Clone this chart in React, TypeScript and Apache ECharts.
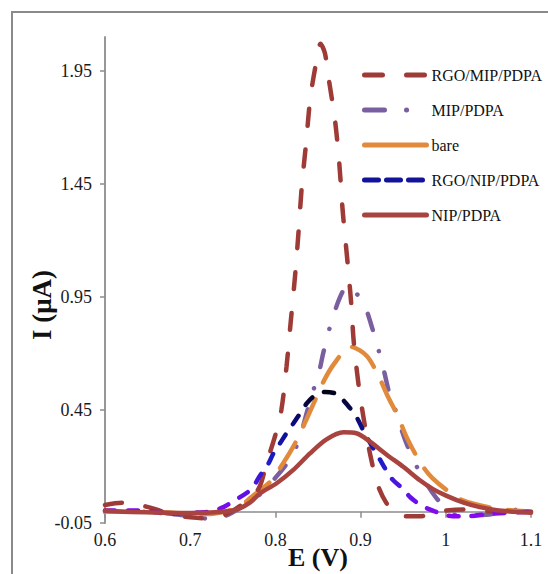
import React, { useEffect, useRef } from "react";
import * as echarts from "echarts";

// ---- data ----
const seriesNames = ["RGO/MIP/PDPA", "MIP/PDPA", "bare", "RGO/NIP/PDPA", "NIP/PDPA"];

const rgoMipE = [0.6, 0.62, 0.64, 0.66, 0.68, 0.7, 0.72, 0.74, 0.76, 0.78, 0.79, 0.8, 0.807, 0.813, 0.818, 0.823, 0.827, 0.831, 0.836, 0.841, 0.848, 0.853, 0.858, 0.862, 0.87, 0.875, 0.879, 0.883, 0.886, 0.889, 0.892, 0.898, 0.905, 0.912, 0.92, 0.93, 0.94, 0.95, 0.97, 0.99, 1.02, 1.06, 1.1];
const rgoMipI = [0.03, 0.04, 0.03, 0.01, -0.015, -0.025, -0.03, -0.015, 0.03, 0.1, 0.22, 0.34, 0.45, 0.64, 0.84, 1.04, 1.23, 1.44, 1.63, 1.83, 1.99, 2.07, 2.03, 1.93, 1.73, 1.54, 1.33, 1.17, 1.05, 0.92, 0.75, 0.55, 0.38, 0.24, 0.12, 0.04, 0.0, -0.02, -0.02, 0.0, 0.01, 0.0, 0.0];

const mipE = [0.6, 0.64, 0.68, 0.7, 0.72, 0.74, 0.76, 0.78, 0.8, 0.82, 0.831, 0.837, 0.844, 0.852, 0.856, 0.865, 0.876, 0.885, 0.894, 0.904, 0.913, 0.92, 0.927, 0.934, 0.94, 0.951, 0.962, 0.973, 0.989, 1.0, 1.013, 1.04, 1.07, 1.087, 1.1];
const mipI = [0.0, 0.0, -0.01, -0.02, -0.03, -0.02, 0.02, 0.07, 0.15, 0.25, 0.36, 0.44, 0.53, 0.63, 0.7, 0.83, 0.95, 1.0, 0.97, 0.92, 0.82, 0.73, 0.63, 0.52, 0.46, 0.33, 0.23, 0.15, 0.06, 0.02, -0.015, -0.015, 0.0, 0.01, 0.0];

const bareE = [0.6, 0.64, 0.68, 0.7, 0.72, 0.74, 0.758, 0.77, 0.794, 0.81, 0.821, 0.829, 0.845, 0.857, 0.87, 0.888, 0.907, 0.921, 0.932, 0.944, 0.954, 0.965, 0.975, 0.984, 1.003, 1.02, 1.05, 1.08, 1.1];
const bareI = [0.0, 0.0, -0.005, -0.01, -0.01, 0.0, 0.02, 0.06, 0.133, 0.22, 0.288, 0.347, 0.48, 0.58, 0.66, 0.73, 0.69, 0.6, 0.51, 0.42, 0.33, 0.25, 0.19, 0.15, 0.09, 0.05, 0.02, 0.005, 0.0];

const rgoNipE = [0.6, 0.64, 0.68, 0.7, 0.723, 0.739, 0.75, 0.767, 0.774, 0.782, 0.79, 0.798, 0.805, 0.813, 0.821, 0.829, 0.837, 0.845, 0.858, 0.872, 0.885, 0.895, 0.905, 0.915, 0.923, 0.931, 0.938, 0.95, 0.958, 0.97, 0.981, 1.0, 1.008, 1.025, 1.05, 1.1];
const rgoNipI = [0.005, 0.005, -0.01, -0.005, 0.0, 0.02, 0.045, 0.085, 0.11, 0.16, 0.2, 0.26, 0.3, 0.347, 0.39, 0.435, 0.48, 0.51, 0.53, 0.52, 0.47, 0.42, 0.345, 0.28, 0.229, 0.177, 0.14, 0.1, 0.065, 0.03, 0.01, -0.015, -0.02, -0.02, -0.01, 0.0];

const nipE = [0.6, 0.62, 0.66, 0.7, 0.739, 0.755, 0.77, 0.782, 0.8015, 0.821, 0.8406, 0.86, 0.88, 0.895, 0.911, 0.931, 0.95, 0.97, 0.985, 1.001, 1.021, 1.04, 1.06, 1.08, 1.1];
const nipI = [0.005, 0.0, -0.003, -0.006, 0.0, 0.01, 0.04, 0.081, 0.126, 0.185, 0.258, 0.32, 0.351, 0.347, 0.31, 0.251, 0.199, 0.138, 0.1, 0.07, 0.04, 0.02, 0.006, 0.0, -0.005];

const yTickValues = [-0.05, 0.45, 0.95, 1.45, 1.95];
const xTickValues = [0.6, 0.7, 0.8, 0.9, 1.0, 1.1];
const xTickLabels = ["0.6", "0.7", "0.8", "0.9", "1", "1.1"];

const pairs = (xs: number[], ys: number[]) => xs.map((x, i) => [x, ys[i]]);

const SERIF = '"Liberation Serif", "Times New Roman", serif';

export default function App() {
  const ref = useRef<HTMLDivElement>(null);

  useEffect(() => {
    if (!ref.current) return;
    const chart = echarts.init(ref.current, undefined, { renderer: "svg" });

    const blueGrad = new echarts.graphic.LinearGradient(0, 0, 0, 1, [
      { offset: 0, color: "#03031c" },
      { offset: 0.25, color: "#0b0b80" },
      { offset: 0.55, color: "#1c1cc8" },
      { offset: 0.8, color: "#5a12e6" },
      { offset: 1, color: "#8a08f0" },
    ]);

    const common = {
      type: "line",
      xAxisIndex: 0,
      yAxisIndex: 0,
      showSymbol: false,
      symbol: "none",
      smooth: 0.3,
      clip: false,
    };

    const option: any = {
      animation: false,
      backgroundColor: "#ffffff",
      grid: { left: 105, right: 17, top: 37, bottom: 51, containLabel: false },
      xAxis: [
        {
          type: "value",
          position: "bottom",
          min: 0.6,
          max: 1.1,
          interval: 0.1,
          axisLine: { show: false, onZero: false },
          axisTick: { show: false },
          splitLine: { show: false },
          axisLabel: {
            show: true,
            margin: 8,
            fontFamily: SERIF,
            fontSize: 18,
            color: "#1a1a1a",
            customValues: xTickValues,
            formatter: (v: number) => {
              const i = xTickValues.findIndex((t) => Math.abs(t - v) < 1e-6);
              return i >= 0 ? xTickLabels[i] : "";
            },
          },
        },
        {
          type: "value",
          position: "bottom",
          min: 0.6,
          max: 1.1,
          interval: 0.1,
          axisLine: { show: true, onZero: true, lineStyle: { color: "#8c8c8c", width: 1.5 } },
          axisTick: {
            show: true,
            length: 6,
            customValues: xTickValues,
            lineStyle: { color: "#8c8c8c", width: 1.5 },
          },
          axisLabel: { show: false },
          splitLine: { show: false },
        },
      ],
      yAxis: {
        type: "value",
        min: -0.05,
        max: 2.1,
        interval: 0.5,
        axisLine: { show: true, onZero: false, lineStyle: { color: "#8c8c8c", width: 1.8 } },
        axisTick: {
          show: true,
          length: 5,
          customValues: yTickValues,
          lineStyle: { color: "#8c8c8c", width: 1.5 },
        },
        splitLine: { show: false },
        axisLabel: {
          margin: 13,
          fontFamily: SERIF,
          fontSize: 18,
          color: "#1a1a1a",
          customValues: yTickValues,
          formatter: (v: number) => v.toFixed(2),
        },
      },
      legend: {
        orient: "vertical",
        left: 362,
        top: 67,
        padding: 0,
        itemWidth: 62,
        itemHeight: 14,
        itemGap: 19,
        itemStyle: { opacity: 0, color: "rgba(0,0,0,0)", borderWidth: 0 },
        lineStyle: { width: 5, cap: "round" },
        textStyle: { fontFamily: SERIF, fontSize: 16, color: "#111", lineHeight: 16 },
        data: [
          { name: seriesNames[0], lineStyle: { type: [18, 24] } },
          { name: seriesNames[1], lineStyle: { type: [20, 22, 0.1, 40] } },
          { name: seriesNames[2], lineStyle: { type: "solid" } },
          { name: seriesNames[3], lineStyle: { color: "#12129a", type: [14, 8] } },
          { name: seriesNames[4] },
        ],
      },
      graphic: [
        {
          type: "rect",
          z: -10,
          shape: { x: 12, y: 12, width: 800, height: 800 },
          style: { fill: "none", stroke: "#8a8a8a", lineWidth: 2 },
        },
        {
          type: "text",
          x: 318,
          y: 557,
          style: {
            text: "E (V)",
            fontFamily: SERIF,
            fontSize: 26,
            fontWeight: "bold",
            fill: "#111",
            align: "center",
            verticalAlign: "middle",
            textAlign: "center",
            textVerticalAlign: "middle",
          },
        },
        {
          type: "text",
          x: 42,
          y: 305,
          rotation: Math.PI / 2,
          style: {
            text: "I (μA)",
            fontFamily: SERIF,
            fontSize: 27,
            fontWeight: "bold",
            fill: "#111",
            align: "center",
            verticalAlign: "middle",
            textAlign: "center",
            textVerticalAlign: "middle",
          },
        },
      ],
      series: [
        {
          ...common,
          name: seriesNames[0],
          z: 5,
          color: "#9e3b37",
          data: pairs(rgoMipE, rgoMipI),
          lineStyle: { color: "#9e3b37", width: 4.5, type: [17, 24], cap: "round" },
        },
        {
          ...common,
          name: seriesNames[1],
          z: 3,
          color: "#7a5fa0",
          data: pairs(mipE, mipI),
          lineStyle: { color: "#7a5fa0", width: 4.5, type: [17, 22, 0.1, 22], cap: "round" },
        },
        {
          ...common,
          name: seriesNames[2],
          z: 4,
          color: "#e28a3c",
          data: pairs(bareE, bareI),
          lineStyle: { color: "#e28a3c", width: 4.5, type: [30, 18], cap: "round" },
        },
        {
          ...common,
          name: seriesNames[3],
          z: 6,
          color: "#12129a",
          data: pairs(rgoNipE, rgoNipI),
          lineStyle: { color: blueGrad, width: 4.5, type: [10, 13], cap: "round" },
        },
        {
          ...common,
          name: seriesNames[4],
          z: 7,
          color: "#a8433f",
          data: pairs(nipE, nipI),
          lineStyle: { color: "#a8433f", width: 4.5, type: "solid", cap: "round" },
        },
      ],
    };

    chart.setOption(option);
    return () => chart.dispose();
  }, []);

  return (
    <div
      ref={ref}
      style={{ position: "absolute", left: 0, top: 0, width: 548, height: 574, background: "#fff" }}
    />
  );
}
